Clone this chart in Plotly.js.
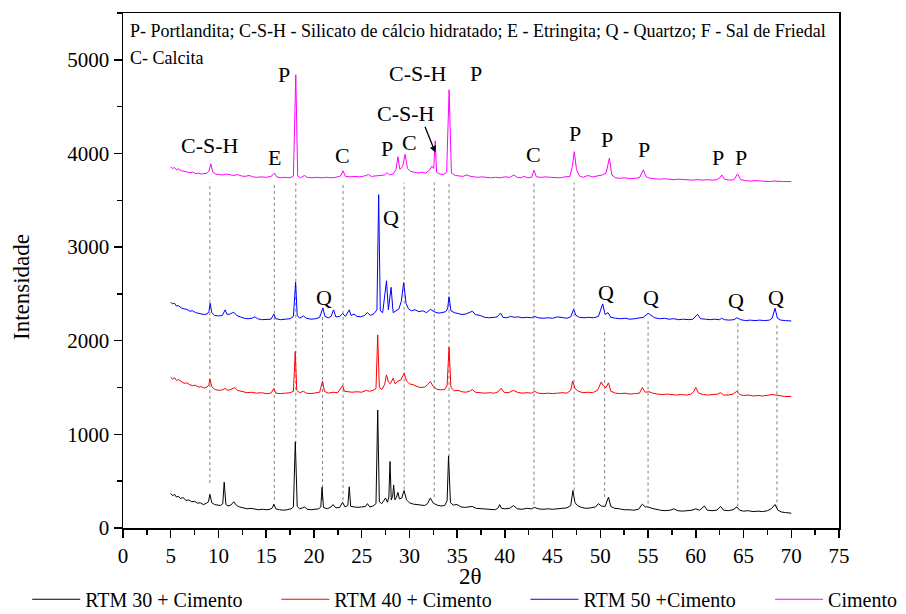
<!DOCTYPE html>
<html>
<head>
<meta charset="utf-8">
<script src="https://cdn.plot.ly/plotly-3.0.1.min.js"></script>
<style>
html,body{margin:0;padding:0;background:#fff;}
#chart{width:906px;height:614px;}
</style>
</head>
<body>
<div id="chart"></div>
<script>
// ---- Series names ----
const seriesNames = ["RTM 30 + Cimento", "RTM 40 + Cimento", "RTM 50 +Cimento", "Cimento"];
const seriesColors = ["#000000", "#ff0000", "#0000ff", "#ff00ff"];
const xTitle = "2θ";
const yTitle = "Intensidade";

// ---- RTM 30 + Cimento ----
const x30 = [5.0,5.2,5.4,5.6,5.8,6.0,6.3,6.6,6.9,7.2,7.5,7.8,8.1,8.4,8.7,8.95,9.1,9.3,9.6,9.9,10.2,10.45,10.6,10.78,11.0,11.3,11.6,11.9,12.2,12.6,13.0,13.4,13.8,14.2,14.6,15.0,15.4,15.65,15.8,16.0,16.4,16.8,17.2,17.6,17.85,18.05,18.25,18.5,18.8,19.0,19.3,19.7,20.1,20.5,20.72,20.85,21.0,21.4,21.8,22.0,22.3,22.7,23.0,23.25,23.55,23.7,23.85,24.2,24.6,25.0,25.4,25.6,25.85,26.2,26.5,26.68,26.85,27.1,27.35,27.5,27.7,27.85,27.97,28.1,28.25,28.35,28.48,28.65,28.8,28.95,29.2,29.44,29.7,30.0,30.4,30.8,31.2,31.6,31.9,32.2,32.5,32.9,33.3,33.7,33.95,34.1,34.3,34.6,35.0,35.4,35.8,36.2,36.6,37.0,37.5,38.0,38.5,39.0,39.3,39.45,39.65,40.0,40.5,40.9,41.3,41.8,42.3,42.8,43.1,43.5,44.0,44.5,45.0,45.5,46.0,46.5,46.9,47.13,47.35,47.6,48.0,48.5,49.0,49.5,49.8,50.1,50.5,50.85,51.1,51.5,52.0,52.5,53.0,53.5,54.0,54.4,54.7,55.0,55.4,55.8,56.3,56.8,57.3,57.7,58.1,58.6,59.1,59.6,60.0,60.4,60.9,61.2,61.7,62.2,62.6,62.9,63.4,63.9,64.3,64.6,65.0,65.5,66.0,66.5,67.0,67.5,67.9,68.3,68.6,69.0,69.4,70.0];
const y30 = [370,345,360,330,340,315,325,295,300,280,285,265,270,250,262,280,360,270,250,245,240,260,490,250,235,245,280,240,225,215,205,210,200,195,200,195,200,215,255,205,195,190,195,205,225,920,230,205,215,225,200,195,200,205,225,435,220,205,225,250,215,220,275,225,240,440,230,225,220,225,230,260,225,235,260,1260,280,260,290,320,275,330,710,300,340,460,300,330,380,310,320,400,300,270,255,250,245,240,260,320,265,245,235,240,290,770,270,245,250,225,220,225,230,210,205,205,200,195,215,250,210,205,210,240,205,200,210,205,220,205,200,205,200,205,210,215,240,400,270,240,220,210,215,225,260,235,230,330,230,210,205,195,195,190,200,255,225,225,210,200,190,185,190,205,185,180,185,190,205,190,235,190,185,190,230,190,185,195,225,190,180,185,175,180,175,185,205,250,190,170,165,158];

// ---- RTM 40 + Cimento ----
const x40 = [5.0,5.2,5.4,5.6,5.8,6.1,6.4,6.7,7.0,7.3,7.6,7.9,8.2,8.5,8.8,9.0,9.1,9.3,9.6,10.0,10.4,10.7,11.0,11.3,11.7,12.0,12.5,13.0,13.5,14.0,14.5,15.0,15.5,15.8,16.0,16.5,17.0,17.5,17.85,18.04,18.2,18.5,18.9,19.2,19.7,20.2,20.6,20.9,21.1,21.5,22.0,22.5,23.0,23.2,23.6,24.0,24.5,25.0,25.5,25.8,26.2,26.5,26.68,26.85,27.1,27.4,27.6,27.8,28.0,28.3,28.5,28.8,29.1,29.45,29.7,30.0,30.4,30.8,31.2,31.6,31.9,32.2,32.5,32.9,33.3,33.7,33.95,34.15,34.35,34.7,35.1,35.5,35.9,36.3,36.6,36.9,37.4,37.9,38.4,38.9,39.3,39.6,39.9,40.4,40.9,41.3,41.8,42.3,42.8,43.1,43.5,44.0,44.5,45.0,45.5,46.0,46.5,46.9,47.1,47.35,47.7,48.2,48.7,49.2,49.7,50.1,50.3,50.6,50.85,51.1,51.6,52.1,52.6,53.1,53.6,54.1,54.4,54.7,55.1,55.5,56.0,56.5,57.0,57.5,58.0,58.5,59.0,59.5,59.8,60.0,60.3,60.8,61.3,61.8,62.3,62.6,62.9,63.4,63.9,64.3,64.6,65.0,65.5,66.0,66.5,67.0,67.5,68.0,68.4,68.8,69.3,70.0];
const y40 = [1610,1590,1605,1575,1585,1560,1545,1550,1530,1520,1525,1505,1510,1495,1505,1530,1590,1510,1480,1470,1475,1490,1470,1480,1500,1470,1455,1445,1450,1440,1445,1435,1440,1490,1440,1435,1440,1445,1460,1885,1470,1445,1460,1440,1435,1440,1450,1570,1460,1440,1450,1445,1520,1460,1455,1450,1455,1450,1470,1460,1470,1490,2062,1500,1480,1530,1635,1560,1540,1600,1540,1570,1580,1652,1570,1540,1530,1510,1500,1505,1530,1565,1510,1480,1475,1480,1520,1930,1500,1465,1470,1455,1450,1460,1480,1450,1445,1440,1445,1440,1455,1492,1450,1445,1470,1450,1440,1445,1440,1460,1440,1435,1440,1435,1440,1445,1440,1470,1570,1490,1460,1445,1450,1445,1470,1560,1520,1500,1550,1460,1440,1435,1440,1430,1435,1440,1500,1450,1455,1440,1430,1425,1430,1425,1420,1425,1420,1430,1460,1500,1440,1425,1420,1425,1430,1445,1420,1420,1430,1460,1425,1415,1420,1410,1415,1410,1415,1425,1420,1410,1405,1403];

// ---- RTM 50 +Cimento ----
const x50 = [5.0,5.2,5.4,5.6,5.8,6.1,6.4,6.7,7.0,7.3,7.6,7.9,8.2,8.5,8.8,9.0,9.13,9.3,9.6,10.0,10.4,10.7,10.9,11.2,11.6,11.9,12.3,12.7,13.1,13.5,13.8,14.1,14.5,15.0,15.5,15.8,16.0,16.5,17.0,17.5,17.85,18.08,18.25,18.5,18.9,19.2,19.7,20.2,20.6,20.94,21.15,21.5,21.8,22.05,22.3,22.7,23.0,23.3,23.7,23.9,24.2,24.5,24.9,25.3,25.6,25.9,26.3,26.6,26.78,26.95,27.2,27.42,27.6,27.8,28.08,28.3,28.6,28.9,29.15,29.4,29.65,29.9,30.2,30.6,31.0,31.4,31.8,32.2,32.6,33.0,33.4,33.8,34.0,34.15,34.35,34.7,35.1,35.5,35.9,36.3,36.6,36.9,37.4,37.9,38.4,38.9,39.2,39.55,39.8,40.2,40.6,41.0,41.4,41.8,42.3,42.8,43.1,43.5,44.0,44.5,45.0,45.5,46.0,46.5,46.9,47.2,47.45,47.8,48.3,48.8,49.3,49.8,50.25,50.5,50.8,51.1,51.6,52.1,52.6,53.1,53.6,54.1,54.5,55.0,55.3,55.7,56.2,56.7,57.2,57.7,58.2,58.7,59.2,59.7,60.18,60.5,61.0,61.5,62.0,62.5,62.7,63.0,63.5,64.0,64.3,64.7,65.2,65.7,66.2,66.7,67.2,67.7,68.0,68.3,68.55,68.9,69.4,70.0];
const y50 = [2411,2395,2400,2370,2375,2350,2340,2335,2315,2320,2300,2295,2290,2280,2285,2310,2400,2300,2270,2265,2270,2330,2280,2285,2305,2270,2255,2240,2235,2240,2255,2235,2225,2225,2230,2285,2235,2225,2230,2235,2260,2625,2270,2240,2265,2240,2230,2235,2250,2350,2260,2245,2260,2330,2255,2260,2290,2260,2330,2270,2285,2260,2255,2270,2300,2270,2290,2330,3560,2320,2300,2500,2640,2330,2570,2300,2320,2340,2420,2620,2400,2340,2320,2330,2310,2320,2300,2335,2310,2295,2300,2310,2340,2470,2320,2300,2290,2280,2285,2300,2315,2280,2270,2250,2245,2250,2255,2295,2250,2245,2260,2250,2255,2245,2250,2245,2260,2245,2240,2245,2240,2255,2245,2240,2255,2335,2270,2250,2245,2250,2245,2260,2393,2280,2300,2250,2240,2235,2240,2230,2235,2240,2250,2293,2270,2245,2235,2240,2230,2235,2225,2230,2225,2230,2283,2235,2230,2225,2230,2225,2240,2225,2220,2225,2245,2225,2215,2220,2215,2220,2215,2220,2240,2347,2240,2220,2215,2211];

// ---- Cimento ----
const xCim = [5.0,5.2,5.4,5.6,5.8,6.1,6.4,6.7,7.0,7.3,7.6,7.9,8.2,8.5,8.8,9.0,9.2,9.4,9.7,10.0,10.4,10.8,11.2,11.6,12.0,12.4,12.8,13.2,13.6,14.0,14.5,15.0,15.5,15.87,16.1,16.5,17.0,17.5,17.85,18.1,18.3,18.6,19.0,19.3,19.8,20.3,20.8,21.3,21.8,22.3,22.8,23.05,23.3,23.8,24.3,24.8,25.3,25.7,26.0,26.5,27.0,27.4,27.66,27.9,28.3,28.6,28.8,29.0,29.3,29.55,29.8,30.1,30.5,30.9,31.3,31.7,32.1,32.35,32.55,32.7,32.85,33.2,33.6,33.9,34.16,34.4,34.8,35.2,35.6,36.0,36.4,36.8,37.2,37.6,38.0,38.5,39.0,39.5,40.0,40.5,40.95,41.3,41.7,42.0,42.4,42.8,43.05,43.3,43.8,44.3,44.8,45.3,45.8,46.3,46.8,47.05,47.27,47.5,47.8,48.2,48.7,49.2,49.7,50.2,50.6,50.95,51.2,51.6,52.1,52.6,53.1,53.6,54.1,54.5,54.8,55.2,55.7,56.2,56.7,57.2,57.7,58.2,58.7,59.2,59.7,60.2,60.7,61.2,61.7,62.2,62.5,62.73,63.0,63.5,64.0,64.37,64.7,65.2,65.7,66.2,66.7,67.2,67.7,68.2,68.7,69.2,70.0];
const yCim = [3855,3840,3850,3825,3835,3815,3810,3800,3795,3800,3785,3790,3780,3785,3790,3810,3890,3800,3780,3775,3770,3780,3770,3765,3775,3760,3755,3765,3750,3745,3750,3745,3755,3790,3750,3740,3745,3740,3760,4840,3760,3740,3765,3745,3740,3745,3740,3745,3740,3745,3760,3815,3755,3750,3755,3750,3760,3775,3755,3760,3765,3770,3795,3770,3780,3830,3965,3830,3860,3990,3840,3810,3800,3790,3800,3790,3820,3865,3840,4135,3800,3780,3775,3800,4680,3790,3765,3760,3755,3770,3755,3750,3745,3750,3745,3740,3745,3740,3750,3745,3770,3745,3740,3755,3740,3745,3820,3750,3745,3750,3745,3745,3740,3750,3755,3850,4020,3830,3760,3745,3765,3750,3760,3770,3790,3950,3770,3740,3735,3740,3730,3735,3740,3825,3750,3735,3730,3725,3730,3725,3720,3725,3720,3720,3715,3720,3715,3720,3715,3720,3740,3770,3725,3715,3720,3782,3720,3710,3705,3710,3705,3705,3700,3705,3700,3700,3700];

// ---- Phase labels (text, 2θ, intensity) ----
const labelText = ["C-S-H","E","P","C","P","C","C-S-H","C-S-H","P","C","P","P","P","P","P","Q","Q","Q","Q","Q","Q"];
const labelX    = [9.11,15.82,16.86,23.04,27.65,30.06,30.9,29.64,36.98,43.05,47.35,50.7,54.57,62.33,64.74,21.05,28.07,50.6,55.31,64.21,68.4];
const labelY    = [4080,3962,4838,3973,4058,4112,4859,4432,4859,3984,4208,4144,4037,3962,3962,2467,3321,2520,2467,2435,2467];

// ---- Reference (dashed) lines at peak positions ----
const refLineX      = [9.1,15.85,18.1,20.9,23.05,29.45,32.6,34.15,43.05,47.25,50.45,55.0,64.4,68.5];
const refLineTop    = [3690,3690,3690,2280,3690,3690,3690,3690,3690,3690,2120,2210,2210,2190];
const refLineBottom = [480,300,900,300,300,410,330,760,250,400,330,260,230,210];

// Arrow for the lower C-S-H label
const arrowTail = [31.57, 4300];
const arrowHead = [32.72, 4010];

// Legend anchor positions (fraction of page width)
const legendX = [0.030, 0.305, 0.580, 0.850];

const FONT = "Liberation Serif";

const xs = [x30, x40, x50, xCim];
const ys = [y30, y40, y50, yCim];
const legendIds = ["legend", "legend2", "legend3", "legend4"];
const traces = xs.map((xv, i) => ({
  type: "scatter", mode: "lines",
  x: xv, y: ys[i], name: seriesNames[i], legend: legendIds[i],
  line: {color: seriesColors[i], width: 1}
}));

const shapes = refLineX.map((xv, i) => ({
  type: "line", xref: "x", yref: "y",
  x0: xv, x1: xv, y0: refLineBottom[i], y1: refLineTop[i],
  line: {color: "#808080", width: 1, dash: "3px,3px"},
  layer: "below"
}));

const annotations = labelText.map((t, i) => ({
  text: t, x: labelX[i], y: labelY[i], xref: "x", yref: "y",
  showarrow: false, font: {family: FONT, size: 22, color: "#000"},
  xanchor: "center", yanchor: "middle"
}));
annotations.push({
  text: "", x: arrowHead[0], y: arrowHead[1], ax: arrowTail[0], ay: arrowTail[1],
  axref: "x", ayref: "y", xref: "x", yref: "y",
  showarrow: true, arrowhead: 2, arrowsize: 1, arrowwidth: 1.3, arrowcolor: "#000"
});
annotations.push({
  text: "P- Portlandita; C-S-H - Silicato de cálcio hidratado; E - Etringita; Q - Quartzo; F - Sal de Friedal",
  xref: "paper", yref: "paper", x: 0.007, y: 0.965, xanchor: "left", yanchor: "middle",
  showarrow: false, font: {family: FONT, size: 18, color: "#000"}
});
annotations.push({
  text: "C- Calcita",
  xref: "paper", yref: "paper", x: 0.007, y: 0.913, xanchor: "left", yanchor: "middle",
  showarrow: false, font: {family: FONT, size: 18, color: "#000"}
});
// axis titles placed exactly where the reference has them
annotations.push({
  text: xTitle, xref: "paper", yref: "paper", x: 0.485, y: -0.095,
  xanchor: "center", yanchor: "middle", showarrow: false,
  font: {family: FONT, size: 23, color: "#000"}
});
annotations.push({
  text: yTitle, xref: "paper", yref: "paper", x: -0.141, y: 0.468,
  xanchor: "center", yanchor: "middle", textangle: -90, showarrow: false,
  font: {family: FONT, size: 23, color: "#000"}
});

function legendDef(xpos) {
  return {
    orientation: "h", xref: "container", yref: "container",
    x: xpos, y: 0.024, xanchor: "left", yanchor: "middle",
    font: {family: FONT, size: 20, color: "#000"},
    bgcolor: "rgba(0,0,0,0)", itemwidth: 48
  };
}

const layout = {
  width: 906, height: 614,
  margin: {l: 123, r: 67, t: 13, b: 86},
  paper_bgcolor: "#fff", plot_bgcolor: "#fff",
  font: {family: FONT, size: 19, color: "#000"},
  showlegend: true,
  legend: legendDef(legendX[0]),
  legend2: legendDef(legendX[1]),
  legend3: legendDef(legendX[2]),
  legend4: legendDef(legendX[3]),
  xaxis: {
    range: [0, 75], tick0: 0, dtick: 5,
    showgrid: false, zeroline: false,
    showline: true, linecolor: "#000", linewidth: 1.5, mirror: true,
    ticks: "outside", ticklen: 8, tickwidth: 1.5, tickcolor: "#000",
    minor: {dtick: 2.5, ticks: "outside", ticklen: 5, tickwidth: 1.5, tickcolor: "#000"},
    tickfont: {family: FONT, size: 21},
    title: {text: ""}
  },
  yaxis: {
    range: [0, 5500], tick0: 0, dtick: 1000,
    showgrid: false, zeroline: false,
    showline: true, linecolor: "#000", linewidth: 1.5, mirror: true,
    ticks: "outside", ticklen: 8, tickwidth: 1.5, tickcolor: "#000",
    minor: {dtick: 500, ticks: "outside", ticklen: 5, tickwidth: 1.5, tickcolor: "#000"},
    tickfont: {family: FONT, size: 21},
    title: {text: ""}
  },
  shapes: shapes,
  annotations: annotations
};

Plotly.newPlot("chart", traces, layout, {displayModeBar: false, staticPlot: true});
</script>
</body>
</html>
